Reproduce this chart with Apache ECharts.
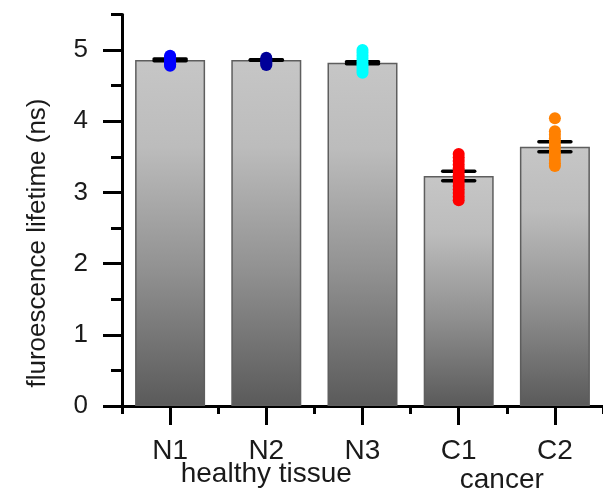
<!DOCTYPE html>
<html><head><meta charset="utf-8">
<script src="https://cdn.jsdelivr.net/npm/echarts@6/dist/echarts.min.js"></script>
<style>html,body{margin:0;padding:0;background:#fff}#c{width:603px;height:491px}</style>
</head><body><div id="c"></div>
<script>
// ---- data ----
const categories = ['N1', 'N2', 'N3', 'C1', 'C2'];
const meanLifetime = [4.86, 4.86, 4.82, 3.23, 3.64];
const semLifetime = [0.012, 0.004, 0.014, 0.066, 0.07];
const pointsN1 = [4.92, 4.90, 4.88, 4.86, 4.84, 4.82, 4.80, 4.78];
const pointsN2 = [4.89, 4.87, 4.85, 4.83, 4.81, 4.79];
const pointsN3 = [5.00, 4.96, 4.92, 4.88, 4.84, 4.80, 4.76, 4.72, 4.68];
const pointsC1 = [3.54, 3.49, 3.44, 3.39, 3.34, 3.29, 3.24, 3.19, 3.14, 3.09, 3.04, 2.99, 2.94, 2.89];
const pointsC2 = [4.04, 3.86, 3.81, 3.76, 3.71, 3.66, 3.61, 3.56, 3.51, 3.46, 3.41, 3.37];
const pointColors = ['#0000ff', '#000099', '#00ffff', '#ff0000', '#ff8000'];
const yTickValues = [0, 1, 2, 3, 4, 5];
const yAxisTitle = 'fluroescence lifetime (ns)';
const groupNames = ['healthy tissue', 'cancer'];

const FONT = "'Liberation Sans', Arial, sans-serif";
const TXT = '#1a1a1a';
const allPoints = [pointsN1, pointsN2, pointsN3, pointsC1, pointsC2];

const chart = echarts.init(document.getElementById('c'), null, {renderer: 'canvas'});

const scatterSeries = allPoints.map((pts, i) => ({
  type: 'scatter',
  xAxisIndex: 0, yAxisIndex: 0,
  symbol: 'circle',
  symbolSize: 12,
  z: 5,
  itemStyle: {color: pointColors[i], opacity: 1},
  data: pts.map(v => [categories[i], v]),
  silent: true
}));

const option = {
  animation: false,
  backgroundColor: '#ffffff',
  grid: {left: 122, top: 14.4, width: 491.5, bottom: 85, containLabel: false},
  xAxis: [{
    type: 'category', data: categories, position: 'bottom',
    axisLine: {show: true, lineStyle: {color: '#000', width: 3}},
    axisTick: {show: true, alignWithLabel: false, length: 8, lineStyle: {color: '#000', width: 3}},
    axisLabel: {show: false},
    splitLine: {show: false}
  }, {
    type: 'category', data: categories, position: 'bottom',
    axisLine: {show: false},
    axisTick: {show: true, alignWithLabel: true, length: 19, lineStyle: {color: '#000', width: 3}},
    axisLabel: {show: true, margin: 31, fontSize: 28, color: TXT, fontFamily: FONT},
    splitLine: {show: false}
  }],
  yAxis: [{
    type: 'value', min: 0, max: 5.5, interval: 1, position: 'left',
    axisLine: {show: true, lineStyle: {color: '#000', width: 3}},
    axisTick: {show: true, length: 19, customValues: yTickValues, lineStyle: {color: '#000', width: 3}},
    axisLabel: {show: true, margin: 34, fontSize: 26, color: TXT, fontFamily: FONT,
      customValues: yTickValues},
    splitLine: {show: false}
  }, {
    type: 'value', min: 0, max: 5.5, interval: 0.5, position: 'left',
    axisLine: {show: false},
    axisTick: {show: true, length: 11, lineStyle: {color: '#000', width: 3}},
    axisLabel: {show: false},
    splitLine: {show: false}
  }],
  series: [{
    type: 'bar',
    xAxisIndex: 0, yAxisIndex: 0,
    data: meanLifetime,
    barWidth: 70,
    z: 2,
    itemStyle: {
      borderColor: '#5e5e5e', borderWidth: 1.5,
      color: new echarts.graphic.LinearGradient(0, 0, 0, 1, [
        {offset: 0, color: '#c6c6c6'},
        {offset: 0.25, color: '#bcbcbc'},
        {offset: 0.6, color: '#929292'},
        {offset: 1, color: '#5a5a5a'}
      ])
    },
    silent: true
  }, {
    type: 'custom',
    xAxisIndex: 0, yAxisIndex: 0,
    z: 4,
    data: meanLifetime.map((m, i) => [i, m - semLifetime[i], m + semLifetime[i]]),
    renderItem: function (params, api) {
      const x = api.value(0);
      const lo = api.coord([x, api.value(1)]);
      const hi = api.coord([x, api.value(2)]);
      const hw = 16;
      const st = {stroke: '#000', lineWidth: 3.5, lineCap: 'round'};
      return {type: 'group', children: [
        {type: 'line', shape: {x1: lo[0] - hw, y1: lo[1], x2: lo[0] + hw, y2: lo[1]}, style: st},
        {type: 'line', shape: {x1: hi[0] - hw, y1: hi[1], x2: hi[0] + hw, y2: hi[1]}, style: st},
        {type: 'line', shape: {x1: hi[0], y1: hi[1], x2: lo[0], y2: lo[1]}, style: st}
      ]};
    },
    silent: true
  }].concat(scatterSeries)
};

chart.setOption(option);

// group labels and axis title positioned through the axis scales
const pN2 = chart.convertToPixel({xAxisIndex: 0}, categories[1]);
const pC1 = chart.convertToPixel({xAxisIndex: 0}, categories[3]);
const pC2 = chart.convertToPixel({xAxisIndex: 0}, categories[4]);
chart.setOption({
  graphic: [{
    type: 'text', x: pN2, y: 474, silent: true,
    style: {text: groupNames[0], fontSize: 28, fontFamily: FONT, fill: TXT, textAlign: 'center', textVerticalAlign: 'middle'}
  }, {
    type: 'text', x: (pC1 + pC2) / 2 - 5, y: 480, silent: true,
    style: {text: groupNames[1], fontSize: 28, fontFamily: FONT, fill: TXT, textAlign: 'center', textVerticalAlign: 'middle'}
  }, {
    type: 'text', x: 38, y: 243, rotation: Math.PI / 2, silent: true,
    style: {text: yAxisTitle, fontSize: 26, fontFamily: FONT, fill: TXT, textAlign: 'center', textVerticalAlign: 'middle'}
  }]
});
</script></body></html>
